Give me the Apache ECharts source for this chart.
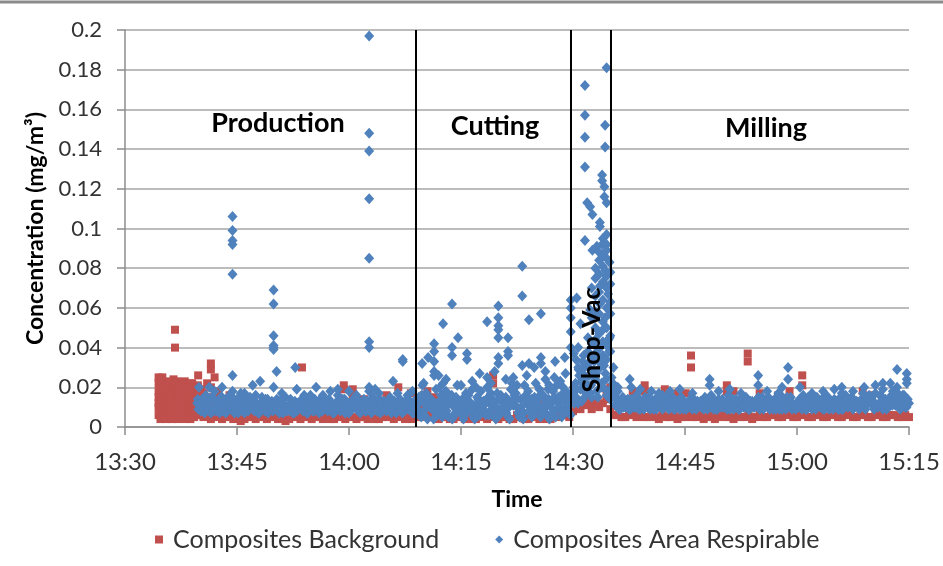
<!DOCTYPE html>
<html><head><meta charset="utf-8">
<script src="https://cdn.jsdelivr.net/npm/echarts@6/dist/echarts.min.js"></script>
<style>html,body{margin:0;padding:0;background:#fff}#c{width:943px;height:566px}</style>
</head><body><div id="c"></div>
<script>
// ---------------- DATA ----------------
const xTickLabels = ['13:30','13:45','14:00','14:15','14:30','14:45','15:00','15:15'];
const yTickLabels = ['0','0.02','0.04','0.06','0.08','0.1','0.12','0.14','0.16','0.18','0.2'];
const seriesNames = ['Composites Background','Composites Area Respirable'];
const phaseLabels = ['Production','Cutting','Shop-Vac','Milling'];
const phaseDividers = ['14:09:00','14:29:45','14:35:05'];

// Background monitor: one reading every 30 s from 13:34:30 (values in 0.001 mg/m3)
const bgStart = '13:34:30';
const bgStepSec = 30;
const bgValues = [
  12,8,18,6,14,20,9,16,7,22,11,                 // 13:34:30 - 13:39:30
  6,5, 7,4, 5,6, 4,5, 6,4, 5,3, 4,6, 5,4, 7,5, 4,5,   // 13:40 - 13:49
  6,4, 5,3, 4,5, 6,4, 5,7, 4,5, 6,4, 5,4, 4,6, 5,4,   // 13:50 - 13:59
  6,5, 4,5, 5,4, 6,4, 4,5, 5,6, 4,5, 6,4, 5,4, 7,5,   // 14:00 - 14:09
  9,6, 5,7, 4,6, 5,4, 4,5, 6,4, 5,4, 4,6, 5,4, 6,5,   // 14:10 - 14:19
  4,5, 5,4, 4,6, 5,4, 4,5, 6,4, 5,4, 4,6, 5,7, 6,5,   // 14:20 - 14:29
  8,10, 9,12, 11,9, 13,10, 12,14, 9,6,                // 14:30 - 14:35
  6,5, 5,7, 6,5, 7,5, 5,6, 5,4, 6,5, 5,6, 4,5, 5,6,   // 14:36 - 14:45
  5,5, 6,4, 5,6, 4,5, 6,5, 5,4, 6,5, 5,6, 4,5, 6,5,   // 14:46 - 14:55
  5,6, 6,5, 5,7, 6,5, 5,6, 6,5, 5,6, 6,5, 5,6, 6,5,   // 14:56 - 15:05
  5,6, 6,5, 5,6, 6,5, 5,6, 6,5, 5,6, 6,5, 5,6, 5      // 15:06 - 15:15
];
// Additional background readings (time, value in 0.001 mg/m3)
const bgExtraTimes = [
  '13:34:30','13:34:30','13:34:30','13:34:30','13:34:30','13:34:30',
  '13:34:45','13:34:45','13:34:45','13:34:45','13:34:45',
  '13:35:00','13:35:00','13:35:00','13:35:00','13:35:00',
  '13:35:15','13:35:15','13:35:15','13:35:15',
  '13:35:30','13:35:30','13:35:30','13:35:30','13:35:30',
  '13:35:45','13:35:45','13:35:45','13:35:45','13:35:45',
  '13:36:00','13:36:00','13:36:00','13:36:00','13:36:00',
  '13:36:15','13:36:15','13:36:15','13:36:15',
  '13:36:30','13:36:30','13:36:30','13:36:30','13:36:30',
  '13:36:42','13:36:42','13:36:42','13:36:42','13:36:42','13:36:42',
  '13:37:00','13:37:00','13:37:00','13:37:00','13:37:00',
  '13:37:15','13:37:15','13:37:15','13:37:15',
  '13:37:30','13:37:30','13:37:30','13:37:30',
  '13:37:45','13:37:45','13:37:45','13:37:45','13:37:45',
  '13:38:00','13:38:00','13:38:00','13:38:00','13:38:00',
  '13:38:15','13:38:15','13:38:15','13:38:15',
  '13:38:30','13:38:30','13:38:30','13:38:30',
  '13:38:45','13:38:45','13:38:45','13:38:45','13:38:45',
  '13:39:00','13:39:00','13:39:00','13:39:00','13:39:00',
  '13:39:15','13:39:15','13:39:15','13:39:15',
  '13:39:30','13:39:30','13:39:30','13:39:30',
  '13:39:45','13:39:45','13:39:45','13:39:45',
  '13:39:48','13:39:48','13:39:48',
  '13:40:15','13:40:15','13:40:15',
  '13:40:30','13:40:30','13:40:30','13:41:00','13:41:00','13:41:00',
  '13:41:30','13:41:30','13:41:30','13:42:00','13:42:00','13:42:00',
  '13:42:30','13:42:30','13:43:00','13:43:00','13:44:00','13:44:00','13:45:00',
  '13:53:42','13:59:18','13:59:18','14:00:30','14:00:30','14:02:00','14:05:00','14:06:36','14:08:18',
  '14:10:00','14:10:00','14:10:30','14:11:30','14:17:00','14:19:18','14:19:18','14:26:00',
  '14:31:00','14:32:00','14:33:00','14:34:30','14:35:00','14:35:00',
  '14:38:00','14:39:36','14:39:36','14:42:18','14:42:18','14:44:00','14:45:06','14:45:48','14:45:48',
  '14:50:36','14:50:36','14:51:30','14:53:24','14:53:24','14:55:00','14:57:30','14:59:00',
  '15:00:42','15:00:42','15:02:00','15:08:48','15:10:00'
];
const bgExtraValues = [
  25,22,18,15,10,6,
  21,17,13,8,4,
  25,20,14,9,5,
  19,15,11,6,
  23,16,11,7,4,
  20,17,13,9,5,
  22,17,12,8,5,
  18,14,10,4,
  24,20,16,11,7,
  49,40,21,15,10,6,
  23,18,13,9,4,
  20,16,12,6,
  22,15,11,7,
  19,15,12,9,5,
  23,17,12,6,4,
  20,15,10,7,
  18,14,10,5,
  22,17,12,8,4,
  20,16,12,8,5,
  17,14,9,5,
  18,13,9,6,
  21,16,11,7,
  26,20,15,
  19,14,10,
  17,12,8,22,15,10,
  32,29,20,25,17,12,
  18,13,14,10,16,11,12,
  30,21,19,19,16,14,16,20,17,
  16,14,18,15,10,26,22,12,
  13,14,12,16,20,19,
  18,21,18,19,16,17,17,36,30,
  21,18,18,37,33,17,16,18,
  26,21,15,18,16
];

// Area respirable monitor, readings every 20 s in three interleaved streams (0.001 mg/m3)
const arStepSec = 20;
const arStartA = '13:39:40';
const arValuesA = [
  12,
  9,14,7, 11,8,15, 10,13,7, 15,8,11, 9,12,7, 14,8,11, 7,10,13, 12,8,10, 7,15,10, 11,8,13,   // 13:40-13:49
  9,14,7, 12,9,8, 10,13,7, 8,11,14, 9,7,12, 13,8,10, 7,12,9, 10,14,8, 7,11,13, 12,8,9,      // 13:50-13:59
  7,13,10, 9,8,12, 14,8,11, 7,10,9, 12,9,13, 8,11,7, 10,7,12, 13,8,9, 9,12,7,               // 14:00-14:08
  11,15,5, 8,17,12, 14,4,19, 10,16,7, 18,5,13, 6,15,11, 12,4,17, 16,10,5, 9,14,18, 13,6,15,  // 14:09-14:18
  17,11,4, 8,16,12, 15,5,19, 11,17,7, 14,4,16, 18,12,6, 10,15,5, 16,7,19, 12,18,5, 15,8,20, 13,17,6, // 14:19-14:29
  16,22,12, 19,14,25, 21,17,28, 24,15,30, 20,27,18, 14,22,11,                               // 14:30-14:35
  12,9,15, 10,14,9, 13,10,11, 9,12,15, 10,9,13, 14,10,11, 9,12,10, 11,15,9, 13,9,10, 10,12,14, // 14:36-14:45
  9,11,13, 12,10,15, 9,13,10, 11,9,12, 14,10,9, 9,13,11, 12,9,15, 10,14,9, 13,10,12, 9,15,10, // 14:46-14:55
  11,9,13, 14,10,9, 9,12,15, 12,9,11, 10,14,9, 13,9,12, 9,11,15, 12,14,9, 10,9,13, 14,11,9,  // 14:56-15:05
  9,13,12, 11,15,10, 13,9,14, 10,12,16, 14,9,11, 12,15,10, 9,13,16, 15,11,12, 13,16,10,      // 15:06-15:14
  12                                                                                         // 15:15
];
const arStartB = '13:39:50';
const arValuesB = [
  9,
  8,11,16, 13,7,10, 8,12,15, 10,7,13, 16,9,8, 7,12,9, 14,8,11, 9,16,7, 12,9,14, 7,10,8,     // 13:40-13:49
  13,8,11, 7,15,10, 14,7,12, 9,13,8, 11,7,16, 8,12,9, 14,9,11, 8,12,7, 10,16,8, 14,7,11,    // 13:50-13:59
  8,12,15, 12,7,9, 8,11,13, 15,9,12, 7,8,10, 13,15,8, 8,12,14, 7,10,16, 13,7,11,            // 14:00-14:08
  7,13,21, 15,4,10, 9,12,6, 20,5,15, 11,15,4, 13,21,8, 6,10,14, 12,19,4, 15,6,11, 8,20,12,  // 14:09-14:18
  14,5,17, 6,13,10, 12,4,22, 16,10,5, 7,21,12, 13,5,15, 9,19,7, 14,11,4, 6,15,21, 10,5,13, 17,7,15, // 14:19-14:29
  12,19,26, 13,30,18, 26,15,33, 18,35,22, 31,16,38, 25,17,12,                               // 14:30-14:35
  9,11,14, 13,9,10, 10,15,9, 11,9,14, 15,12,9, 9,13,10, 12,15,9, 10,9,13, 11,15,9, 9,10,13,  // 14:36-14:45
  14,9,12, 10,9,11, 13,16,9, 9,14,10, 10,12,16, 12,9,14, 9,11,10, 15,9,12, 10,11,15, 12,9,13, // 14:46-14:55
  15,10,9, 9,13,16, 12,9,10, 15,10,9, 10,12,16, 9,15,11, 13,9,11, 10,9,16, 15,12,9, 11,9,15, // 14:56-15:05
  9,16,10, 14,9,12, 10,11,17, 9,15,12, 11,17,10, 16,9,14, 10,11,18, 11,17,9, 16,10,14        // 15:06-15:14
];
const arStartC = '13:39:45';
const arValuesC = [
  14,
  12,9,13, 10,14,8, 13,9,11, 8,12,15, 11,14,10, 9,11,13, 12,9,15, 10,13,11, 9,12,8, 14,11,9, // 13:40-13:49
  11,9,13, 14,11,10, 8,11,13, 12,10,9, 14,11,9, 10,14,12, 11,8,13, 13,9,11, 9,13,10, 11,14,8, // 13:50-13:59
  10,11,13, 14,10,11, 9,13,10, 11,13,8, 14,10,9, 11,9,13, 13,11,9, 9,12,14, 11,10,13,        // 14:00-14:08
  9,12,16, 6,11,14, 12,8,10, 13,9,11, 8,12,16, 10,7,13, 9,15,7, 13,8,11, 7,12,9, 11,14,6,    // 14:09-14:18
  9,13,10, 14,8,11, 7,10,13, 12,14,9, 10,7,13, 8,14,10, 13,11,16, 9,12,14, 10,8,13, 12,16,9, 8,11,14, // 14:19-14:29
  20,15,29, 23,36,17, 30,21,42, 27,39,20, 35,24,44, 19,30,15,                               // 14:30-14:35
  11,13,10, 12,11,14, 11,13,12, 13,10,12, 11,14,12, 12,11,14, 13,11,12, 12,13,11, 10,12,13, 12,11,10, // 14:36-14:45
  11,13,12, 13,12,11, 11,10,14, 13,12,11, 12,11,13, 11,14,12, 13,12,11, 11,12,13, 12,11,14, 11,13,12, // 14:46-14:55
  13,12,11, 11,12,13, 12,11,14, 13,12,11, 12,11,13, 11,13,12, 12,11,14, 11,13,12, 13,12,11, 12,13,11, // 14:56-15:05
  12,11,14, 13,12,11, 12,13,11, 11,12,14, 13,12,11, 11,13,12, 12,14,11, 13,12,14, 11,13,12   // 15:06-15:14
];
// Additional area respirable readings (time, value in 0.001 mg/m3)
const arExtraTimes = [
  '13:39:54','13:41:18','13:42:00','13:43:00',
  '13:44:24','13:44:24','13:44:24','13:44:24','13:44:24','13:44:24','13:44:24',
  '13:45:30','13:46:00','13:47:06','13:48:06',
  '13:49:54','13:49:54','13:49:54','13:49:54','13:49:54','13:49:54','13:49:54','13:50:18',
  '13:51:00','13:52:48','13:53:00','13:54:00','13:55:36','13:56:30','13:57:30','13:58:30','14:00:00','14:01:00',
  '14:02:42','14:02:42','14:02:42','14:02:42','14:02:42','14:02:42','14:02:42','14:02:42','14:02:42',
  '14:03:30','14:04:00','14:05:54','14:06:30','14:07:12','14:07:12','14:08:30',
  '14:09:48','14:10:00','14:10:36','14:11:24','14:11:24','14:11:24','14:11:24','14:11:24',
  '14:12:00','14:12:36','14:12:36','14:13:00','14:13:48','14:13:48','14:13:48','14:14:36','14:15:00',
  '14:15:48','14:15:48','14:16:30','14:17:00','14:17:30','14:18:30','14:18:30','14:19:00','14:19:30',
  '14:20:00','14:20:00','14:20:00','14:20:00','14:20:00','14:20:00','14:20:00',
  '14:21:00','14:21:18','14:21:18','14:21:18','14:22:00','14:22:30',
  '14:23:12','14:23:12','14:23:12','14:23:48','14:24:06','14:24:06','14:24:48','14:25:00',
  '14:25:42','14:25:42','14:25:42','14:26:18','14:26:18','14:26:48','14:27:30','14:27:36','14:28:18','14:28:54','14:29:00',
  '14:29:42','14:29:42','14:29:42','14:29:42','14:29:42',
  '14:30:06','14:30:24','14:30:30','14:30:42','14:30:42','14:31:00','14:31:18','14:31:18',
  '14:31:36','14:31:36','14:31:36','14:31:36','14:31:36','14:31:54','14:32:00','14:32:00','14:32:00',
  '14:32:18','14:32:18','14:32:30','14:32:30','14:32:30','14:32:30','14:32:36','14:32:36',
  '14:33:00','14:33:00','14:33:00','14:33:00','14:33:00','14:33:00','14:33:00','14:33:12',
  '14:33:30','14:33:30','14:33:30','14:33:30','14:33:30','14:33:30','14:33:30','14:33:30',
  '14:33:36','14:33:36','14:33:36','14:33:36','14:33:54','14:33:54','14:33:54',
  '14:34:00','14:34:00','14:34:00','14:34:00','14:34:00','14:34:00','14:34:00','14:34:00','14:34:00',
  '14:34:12','14:34:12','14:34:18','14:34:18','14:34:18','14:34:18',
  '14:34:30','14:34:30','14:34:30','14:34:30','14:34:30','14:34:30','14:34:30','14:34:30','14:34:30','14:34:30','14:34:30','14:34:30',
  '14:34:42','14:34:54','14:34:54',
  '14:35:00','14:35:00','14:35:00','14:35:00','14:35:00','14:35:00',
  '14:36:00','14:36:00','14:37:36','14:37:48','14:38:30','14:39:00','14:40:30','14:41:30','14:42:00','14:43:00',
  '14:44:18','14:46:00','14:48:18','14:48:18','14:49:30','14:51:00','14:52:30','14:54:48','14:54:48','14:56:00',
  '14:57:30','14:58:00','14:58:48','14:58:48','15:00:24','15:02:00','15:03:30','15:05:00','15:06:00','15:06:00',
  '15:07:30','15:09:00','15:10:30','15:11:30','15:11:30','15:12:30','15:13:24','15:13:24',
  '15:14:42','15:14:42','15:14:42'
];
const arExtraValues = [
  20,20,18,20,
  106,99,94,92,77,26,18,
  17,17,21,23,
  69,62,46,41,40,39,20,28,
  17,30,19,16,20,16,18,19,18,16,
  197,148,139,115,85,43,40,20,18,
  19,17,23,17,34,33,18,
  32,22,35,42,38,33,28,26,
  26,52,22,24,62,40,36,45,21,
  37,34,23,20,27,53,25,22,28,
  61,55,51,49,45,35,32,
  24,45,38,36,25,21,
  81,66,31,26,54,32,30,22,
  57,35,32,28,24,21,25,33,23,35,27,
  64,60,55,48,40,
  37,34,65,40,30,52,27,33,
  172,157,146,131,94,113,45,38,32,
  111,59,70,55,42,35,107,89,
  80,75,66,58,50,44,37,91,
  88,77,68,57,47,40,33,84,
  103,101,71,62,127,124,92,
  95,86,81,73,64,53,43,36,49,
  121,116,152,141,79,55,
  181,113,97,92,89,85,76,70,60,50,41,34,
  67,83,45,
  78,72,63,57,46,38,
  20,18,24,20,16,19,18,17,16,18,
  19,17,24,21,18,19,17,26,21,18,
  17,20,30,24,20,17,18,19,20,17,
  18,20,21,22,19,22,29,20,
  27,24,22
];

// ---------------- BUILD ----------------
function toMin(s){const p=s.split(':').map(Number);return p[0]*60+p[1]+(p[2]||0)/60;}
function regular(start, stepSec, vals){const t0=toMin(start);return vals.map((v,i)=>[t0+i*stepSec/60, v/1000]);}
function paired(times, vals){return times.map((t,i)=>[toMin(t), vals[i]/1000]);}
const bgData = regular(bgStart,bgStepSec,bgValues).concat(paired(bgExtraTimes,bgExtraValues));
const arData = regular(arStartA,arStepSec,arValuesA)
  .concat(regular(arStartB,arStepSec,arValuesB))
  .concat(regular(arStartC,arStepSec,arValuesC))
  .concat(paired(arExtraTimes,arExtraValues));
const xMin = toMin(xTickLabels[0]), xMax = toMin(xTickLabels[xTickLabels.length-1]);

const FONT = 'Lato';
const chart = echarts.init(document.getElementById('c'), null, {renderer:'canvas'});
chart.setOption({
  animation:false,
  textStyle:{fontFamily:FONT},
  grid:{left:125,right:34,top:30,bottom:139},
  xAxis:{
    type:'value', min:xMin, max:xMax, interval:15,
    name:'Time', nameLocation:'middle', nameGap:61,
    nameTextStyle:{fontFamily:FONT,fontSize:23,fontWeight:'bold',color:'#000'},
    axisLine:{show:true,lineStyle:{color:'#8c8c8c',width:1.5}},
    axisTick:{show:true,length:8,lineStyle:{color:'#8c8c8c',width:1.5}},
    axisLabel:{margin:23,fontSize:24,color:'#333',fontFamily:FONT,
      formatter:v=>xTickLabels[Math.round((v-xMin)/15)]},
    splitLine:{show:false}
  },
  yAxis:{
    type:'value', min:0, max:0.2, interval:0.02,
    name:'Concentration (mg/m³)', nameLocation:'middle', nameRotate:90, nameGap:78,
    nameTextStyle:{fontFamily:FONT,fontSize:23,fontWeight:'bold',color:'#000'},
    axisLine:{show:true,lineStyle:{color:'#8c8c8c',width:1.5}},
    axisTick:{show:true,length:8,lineStyle:{color:'#8c8c8c',width:1.5}},
    axisLabel:{margin:23,fontSize:22,color:'#333',fontFamily:FONT,
      formatter:v=>yTickLabels[Math.round(v/0.02)]},
    splitLine:{show:true,lineStyle:{color:'#a6a6a6',width:1.5}}
  },
  legend:{
    bottom:9,left:150,itemGap:56,itemWidth:8,itemHeight:8,
    textStyle:{fontSize:25,color:'#333',fontFamily:FONT,padding:[0,0,0,5]},
    data:[{name:seriesNames[0],icon:'rect'},{name:seriesNames[1],icon:'diamond'}]
  },
  series:[
    {name:seriesNames[0],type:'scatter',symbol:'rect',symbolSize:8,
     itemStyle:{color:'#C0504D',opacity:1},data:bgData,z:2},
    {name:seriesNames[1],type:'scatter',symbol:'diamond',symbolSize:[10,11],
     itemStyle:{color:'#4F81BD',opacity:1},data:arData,z:3,
     markLine:{silent:true,symbol:'none',label:{show:false},
       lineStyle:{type:'solid',color:'#000',width:2},
       data:phaseDividers.map(t=>[{coord:[toMin(t),0]},{coord:[toMin(t),0.2]}])}}
  ],
  graphic:[
    {type:'rect',left:0,top:0,shape:{width:943,height:4},style:{fill:'#c4c4c4'},silent:true},
    {type:'rect',left:0,top:1,shape:{width:943,height:2},style:{fill:'#8a8a8a'},silent:true},
    {type:'text',x:278,y:123,z:10,style:{text:phaseLabels[0],font:'bold 27px Lato',fill:'#000',align:'center',verticalAlign:'middle'}},
    {type:'text',x:495,y:126,z:10,style:{text:phaseLabels[1],font:'bold 27px Lato',fill:'#000',align:'center',verticalAlign:'middle'}},
    {type:'text',x:592,y:340,z:10,rotation:Math.PI/2,style:{text:phaseLabels[2],font:'bold 25px Lato',fill:'#000',align:'center',verticalAlign:'middle'}},
    {type:'text',x:766,y:128,z:10,style:{text:phaseLabels[3],font:'bold 27px Lato',fill:'#000',align:'center',verticalAlign:'middle'}}
  ]
});
</script></body></html>
